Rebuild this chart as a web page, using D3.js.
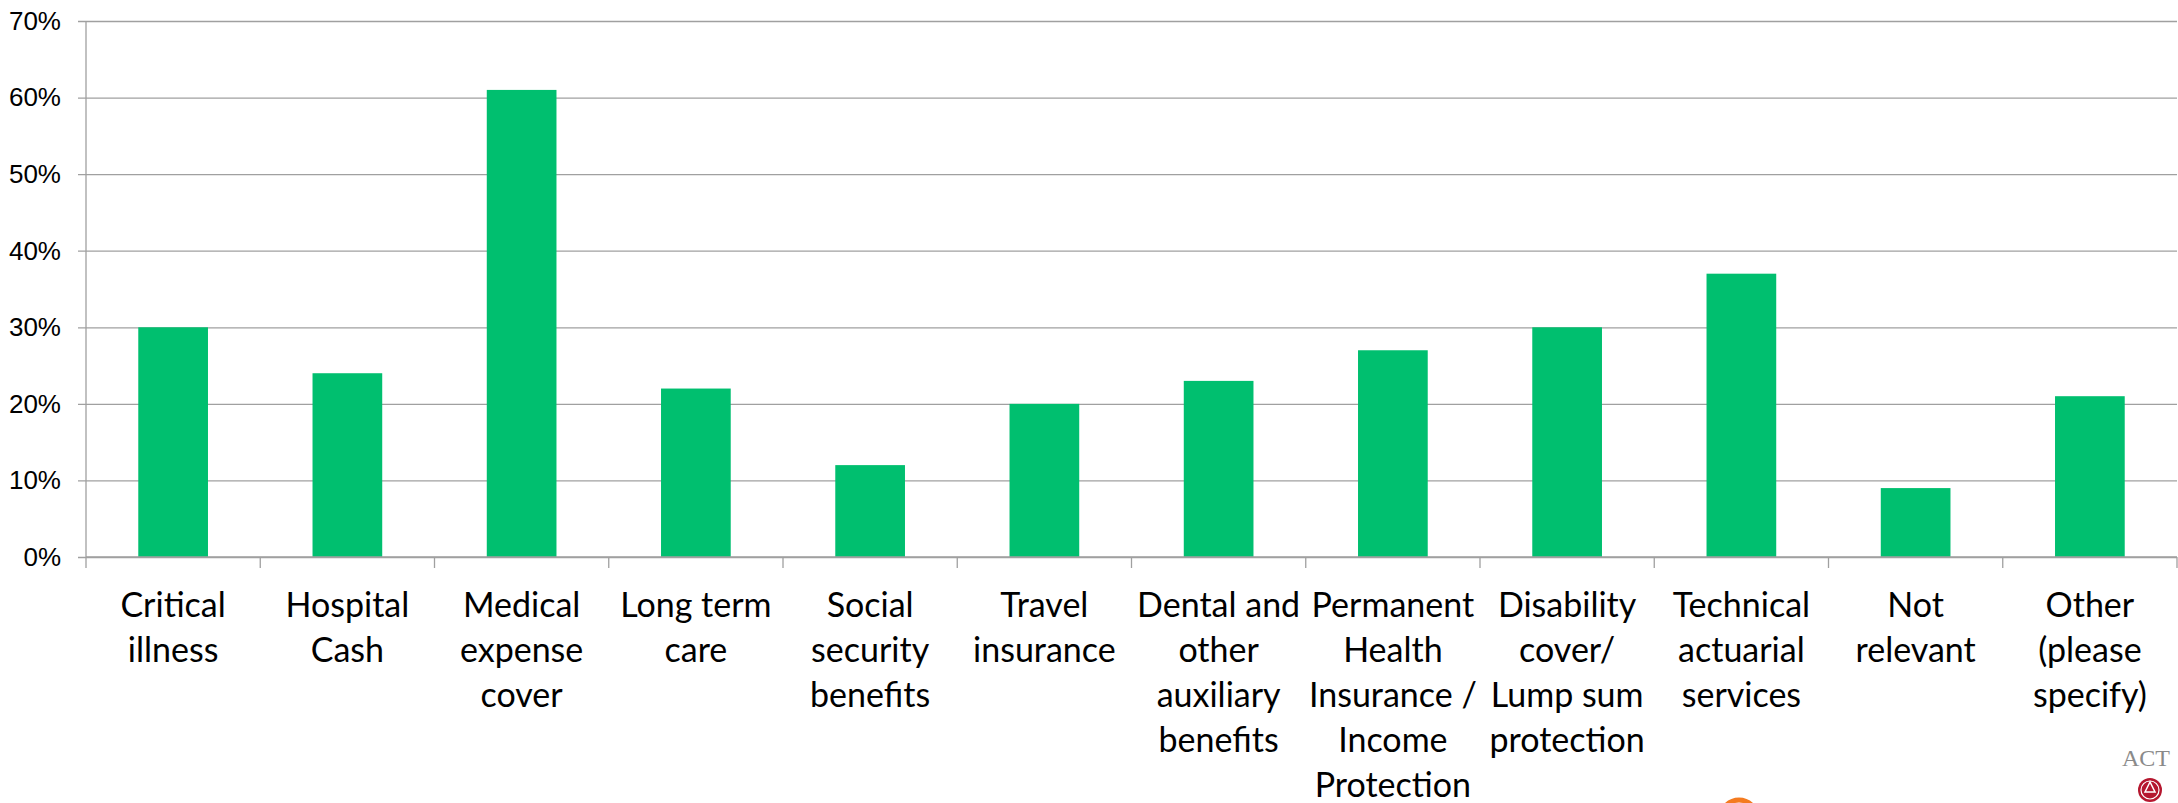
<!DOCTYPE html>
<html>
<head>
<meta charset="utf-8">
<script src="https://cdn.jsdelivr.net/npm/d3@7"></script>
<style>
  body { margin: 0; background: #fff; }
  svg { display: block; font-family: Lato, "Open Sans", sans-serif; }
</style>
</head>
<body>
<svg id="drawing_region"></svg>
<script>
// categories, each split into the lines shown under the axis
const categories = [
    ["Critical", "illness"],
    ["Hospital", "Cash"],
    ["Medical", "expense", "cover"],
    ["Long term", "care"],
    ["Social", "security", "benefits"],
    ["Travel", "insurance"],
    ["Dental and", "other", "auxiliary", "benefits"],
    ["Permanent", "Health", "Insurance /", "Income", "Protection"],
    ["Disability", "cover/", "Lump sum", "protection"],
    ["Technical", "actuarial", "services"],
    ["Not", "relevant"],
    ["Other", "(please", "specify)"]
];
const values = [30, 24, 61, 22, 12, 20, 23, 27, 30, 37, 9, 21];
const yticks = [0, 10, 20, 30, 40, 50, 60, 70];

const config = {
    width: 2178,
    height: 803,
    margin: {top: 21, right: 1, bottom: 246, left: 86}
};

const svg = d3.select('#drawing_region')
    .attr('width', config.width)
    .attr('height', config.height);

const inner_width = config.width - config.margin.left - config.margin.right;
const inner_height = config.height - config.margin.top - config.margin.bottom;

const chart = svg.append('g')
    .attr('transform', `translate(${config.margin.left}, ${config.margin.top})`);

const keys = categories.map(d => d.join(' '));

const xscale = d3.scaleBand()
    .domain(keys)
    .range([0, inner_width])
    .paddingInner(0.6)
    .paddingOuter(0.3);

const yscale = d3.scaleLinear()
    .domain([0, 70])
    .range([inner_height, 0]);

// gridlines + y labels
const yaxis = d3.axisLeft(yscale)
    .tickValues(yticks)
    .tickFormat(d => d + '%')
    .tickSize(-inner_width - 8)
    .tickPadding(17);

chart.append('g')
    .attr('transform', 'translate(-8,0)')
    .call(yaxis)
    .call(g => g.select('.domain').remove())
    .call(g => g.selectAll('line').attr('stroke', '#a0a0a0').attr('stroke-width', 1.3))
    .call(g => g.selectAll('text')
        .attr('fill', '#000')
        .attr('font-size', '26px'));

// bars
chart.selectAll('rect.bar')
    .data(values)
    .join('rect')
    .attr('class', 'bar')
    .attr('x', (d, i) => xscale(keys[i]))
    .attr('y', d => yscale(d))
    .attr('width', xscale.bandwidth())
    .attr('height', d => inner_height - yscale(d))
    .attr('fill', '#00bf6f');

// vertical axis line
chart.append('line')
    .attr('x1', 0).attr('x2', 0)
    .attr('y1', 0).attr('y2', inner_height + 11)
    .attr('stroke', '#a0a0a0')
    .attr('stroke-width', 1.3);

// bottom axis line and category boundary ticks
const bscale = d3.scaleLinear().domain([0, categories.length]).range([0, inner_width]);
chart.append('line')
    .attr('x1', 0).attr('x2', inner_width)
    .attr('y1', inner_height).attr('y2', inner_height)
    .attr('stroke', '#a0a0a0')
    .attr('stroke-width', 1.3);

chart.selectAll('line.btick')
    .data(d3.range(1, categories.length + 1))
    .join('line')
    .attr('class', 'btick')
    .attr('x1', d => bscale(d)).attr('x2', d => bscale(d))
    .attr('y1', inner_height).attr('y2', inner_height + 11)
    .attr('stroke', '#a0a0a0')
    .attr('stroke-width', 1.3);

// category labels
const labels = chart.selectAll('text.cat')
    .data(categories)
    .join('text')
    .attr('class', 'cat')
    .attr('text-anchor', 'middle')
    .attr('font-size', '34px')
    .attr('fill', '#000')
    .attr('transform', (d, i) => `translate(${xscale(keys[i]) + xscale.bandwidth() / 2}, ${inner_height + 60})`);

labels.selectAll('tspan')
    .data(d => d)
    .join('tspan')
    .attr('x', 0)
    .attr('y', (d, i) => i * 45)
    .text(d => d);

// bits of logos cut off at the bottom edge
svg.append('circle')
    .attr('cx', 1739).attr('cy', 818).attr('r', 18)
    .attr('fill', 'none').attr('stroke', '#f47b20').attr('stroke-width', 5);

svg.append('text')
    .attr('x', 2122).attr('y', 766)
    .attr('font-family', 'Liberation Serif, serif')
    .attr('font-size', '24px')
    .attr('fill', '#8a8a8a')
    .text('ACT');

svg.append('circle')
    .attr('cx', 2150).attr('cy', 790).attr('r', 12)
    .attr('fill', '#b5172f');

svg.append('circle')
    .attr('cx', 2150).attr('cy', 790).attr('r', 9)
    .attr('fill', 'none').attr('stroke', '#fff').attr('stroke-width', 1.2);

svg.append('path')
    .attr('d', 'M2150,782 L2145,792 L2155,792 Z')
    .attr('fill', 'none').attr('stroke', '#fff').attr('stroke-width', 1.5);
</script>
</body>
</html>
